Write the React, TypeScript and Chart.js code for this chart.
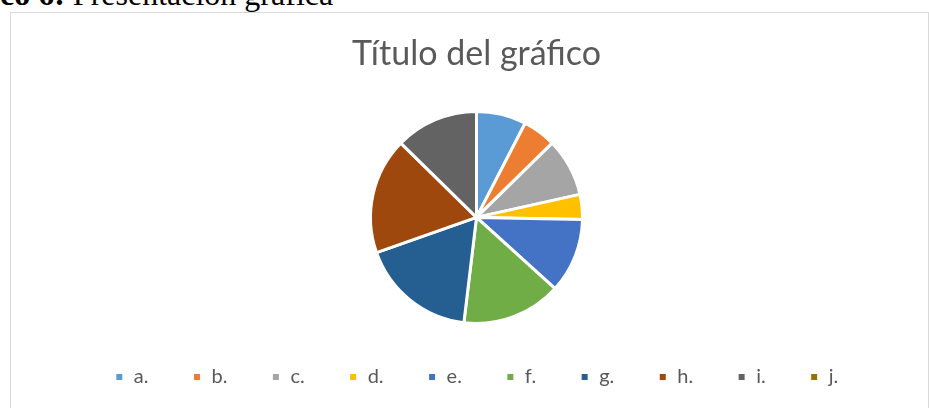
import React, { useEffect, useRef } from "react";
import { Chart, registerables } from "chart.js";

Chart.register(...registerables);

const headingBold = "co 6:";
const headingText = " Presentación gráfica";
const chartTitle = "Título del gráfico";
const categories = ["a.", "b.", "c.", "d.", "e.", "f.", "g.", "h.", "i.", "j."];
const values = [6, 4, 7, 3, 9, 12, 14, 14, 10, 0];
const colors = [
  "#5B9BD5",
  "#ED7D31",
  "#A5A5A5",
  "#FFC000",
  "#4472C4",
  "#70AD47",
  "#255E91",
  "#9E480E",
  "#636363",
  "#997300",
];

export default function App() {
  const ref = useRef<HTMLCanvasElement>(null);

  useEffect(() => {
    if (!ref.current) return;
    const chart = new Chart(ref.current, {
      type: "pie",
      data: {
        labels: categories,
        datasets: [
          {
            data: values,
            backgroundColor: colors,
            borderColor: "#ffffff",
            borderWidth: 3,
            clip: false,
          } as any,
        ],
      },
      options: {
        animation: false,
        responsive: false,
        radius: 106,
        layout: { padding: { left: 14, right: 0, top: 0, bottom: 11 } },
        plugins: {
          title: {
            display: true,
            text: chartTitle,
            color: "#595959",
            font: { family: "Lato", size: 34, weight: "normal" },
            padding: { top: 21, bottom: 37 },
          },
          legend: {
            display: true,
            position: "bottom",
            labels: {
              boxWidth: 9,
              boxHeight: 9,
              padding: 44,
              color: "#595959",
              font: { family: "Lato", size: 20 },
            },
          },
          tooltip: { enabled: false },
        },
      } as any,
    });
    return () => chart.destroy();
  }, []);

  return (
    <div
      style={{
        position: "absolute",
        left: 0,
        top: 0,
        width: 929,
        height: 408,
        overflow: "hidden",
        background: "#ffffff",
      }}
    >
      <div
        style={{
          position: "absolute",
          left: 0,
          top: -22,
          fontFamily: "'Liberation Serif', 'Times New Roman', serif",
          fontSize: 32,
          lineHeight: "32px",
          color: "#000",
          whiteSpace: "nowrap",
        }}
      >
        <b>{headingBold}</b>
        {headingText}
      </div>
      <div
        style={{
          position: "absolute",
          left: 10,
          top: 12,
          width: 919,
          height: 420,
          boxSizing: "border-box",
          border: "1px solid #D9D9D9",
        }}
      >
        <canvas ref={ref} width={917} height={395} style={{ width: 917, height: 395, display: "block" }} />
      </div>
    </div>
  );
}
